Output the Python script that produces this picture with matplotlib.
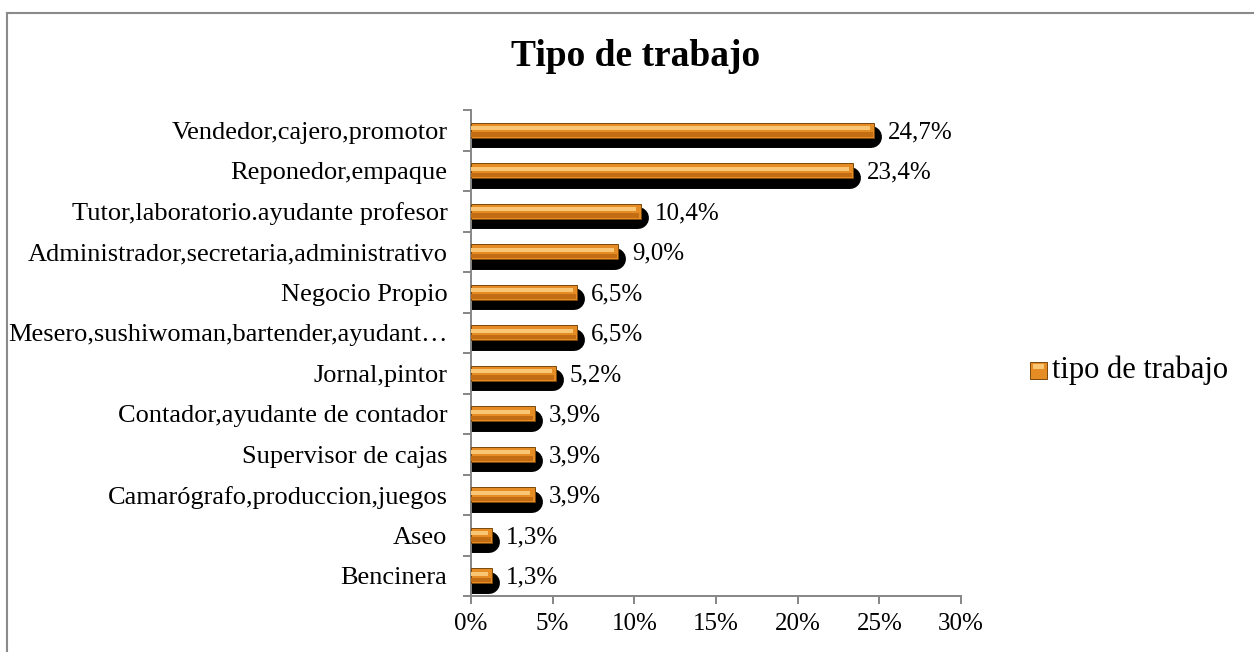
import numpy as np
import matplotlib
matplotlib.use('Agg')
import matplotlib.pyplot as plt
from matplotlib.patches import Rectangle
from matplotlib.lines import Line2D
from matplotlib.ticker import FuncFormatter, FixedLocator

plt.rcParams['font.family'] = ['Liberation Serif', 'DejaVu Serif']

# ── Data ──────────────────────────────────────────────────────
categories = ['Vendedor,cajero,promotor', 'Reponedor,empaque',
              'Tutor,laboratorio.ayudante profesor',
              'Administrador,secretaria,administrativo', 'Negocio Propio',
              'Mesero,sushiwoman,bartender,ayudant…', 'Jornal,pintor',
              'Contador,ayudante de contador', 'Supervisor de cajas',
              'Camarógrafo,produccion,juegos', 'Aseo', 'Bencinera']
values = [24.7, 23.4, 10.4, 9.0, 6.5, 6.5, 5.2, 3.9, 3.9, 3.9, 1.3, 1.3]
x_ticks = [0, 5, 10, 15, 20, 25, 30]
title = 'Tipo de trabajo'
series_name = 'tipo de trabajo'

ORANGE = '#E68C24'
LIGHT = '#F9C676'
DEEP = '#C26C14'
EDGE = '#7A480A'
AXIS_GREY = '#868686'

W, H = 1254, 652
fig = plt.figure(figsize=(W / 100, H / 100), dpi=100)
# chart-area border (only top and left visible in the crop)
fig.lines.append(Line2D([7 / W, 7 / W], [0, 1 - 13 / H], transform=fig.transFigure,
                        color='#8a8a8a', linewidth=1.5))
fig.lines.append(Line2D([7 / W, 1], [1 - 13 / H, 1 - 13 / H], transform=fig.transFigure,
                        color='#8a8a8a', linewidth=1.5))

# axes box: x 471..961 px, y 110..596 px (from top)
ax = fig.add_axes([471 / W, 1 - 596 / H, 490 / W, 486 / H])

n = len(categories)
y = np.arange(n)[::-1]  # first category on top

# black shadow: thick rounded strokes under the bars
for yi, v in zip(y, values):
    ax.plot([0, v - 0.18], [yi - 0.17, yi - 0.17], color='black', linewidth=15.8,
            solid_capstyle='round', zorder=2)

# orange bevelled bars
ax.barh(y, values, height=0.36, color=ORANGE, edgecolor=EDGE,
        linewidth=0.7, zorder=3)
ax.barh(y - 0.11, [v - 0.12 for v in values], left=0.03, height=0.11,
        color=DEEP, linewidth=0, zorder=4)
ax.barh(y + 0.05, [v - 0.3 for v in values], left=0.03, height=0.09,
        color=LIGHT, linewidth=0, zorder=4)

for yi, v in zip(y, values):
    ax.text(v + 0.85, yi - 0.05, f'{v:.1f}%'.replace('.', ','), va='center',
            ha='left', fontsize=18, zorder=5)

ax.set_xlim(0, 30)
ax.set_ylim(-0.5, n - 0.5)
ax.xaxis.set_major_locator(FixedLocator(x_ticks))
ax.xaxis.set_major_formatter(FuncFormatter(lambda v, p: f'{v:.0f}%'))
ax.set_yticks(y)
ax.set_yticklabels(categories)
ax.yaxis.set_minor_locator(FixedLocator(np.arange(-0.5, n, 1)))
ax.tick_params(axis='y', which='major', length=0, pad=17, labelsize=19)
ax.tick_params(axis='y', which='minor', length=6, color=AXIS_GREY, width=1.4)
ax.tick_params(axis='x', length=6, color=AXIS_GREY, width=1.4, labelsize=18, pad=6)
for s in ['top', 'right']:
    ax.spines[s].set_visible(False)
for s in ['left', 'bottom']:
    ax.spines[s].set_color(AXIS_GREY)
    ax.spines[s].set_linewidth(1.4)

fig.text(636 / W, 1 - 57 / H, title, ha='center', va='center', fontsize=27,
         fontweight='bold')

# legend
fig.patches.append(Rectangle((1030 / W, 1 - 379 / H), 17 / W, 17 / H,
                             transform=fig.transFigure, facecolor=ORANGE,
                             edgecolor=EDGE, linewidth=0.7))
fig.patches.append(Rectangle((1033 / W, 1 - 369 / H), 11 / W, 5 / H,
                             transform=fig.transFigure, facecolor=LIGHT, linewidth=0))
fig.text(1052 / W, 1 - 370 / H, series_name, ha='left', va='center', fontsize=22)

fig.savefig('out.png', dpi=100)
